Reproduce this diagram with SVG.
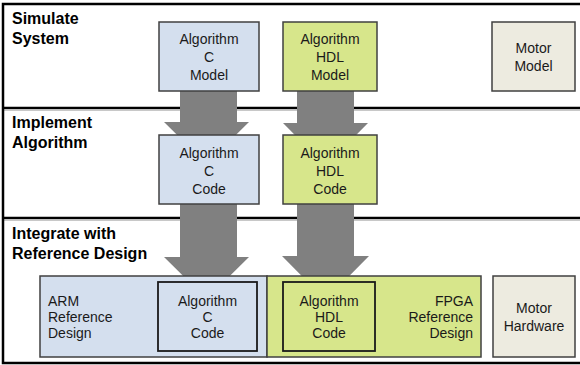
<svg xmlns="http://www.w3.org/2000/svg" width="580" height="365" viewBox="0 0 580 365">
<defs>
<style>
.frame{fill:none;stroke:#000;stroke-width:2.5}
.div{stroke:#000;stroke-width:2.5}
.sub{stroke:#c8c8c8;stroke-width:1}
.arrow{fill:#808080}
.box{stroke:#404040;stroke-width:1.5}
.inner{stroke:#1a1a1a;stroke-width:1.8}
.blue{fill:#d4dfee}
.green{fill:#d7e68b}
.beige{fill:#edebe0}
.lbl{font-family:"Liberation Sans",Arial,sans-serif;font-size:16px;font-weight:bold;fill:#000}
.t{font-family:"Liberation Sans",Arial,sans-serif;font-size:14px;fill:#1a1a1a;text-anchor:middle}
.tl{font-family:"Liberation Sans",Arial,sans-serif;font-size:14px;fill:#1a1a1a}
.tr{font-family:"Liberation Sans",Arial,sans-serif;font-size:14px;fill:#1a1a1a;text-anchor:end}
</style>
</defs>
<rect width="580" height="365" fill="#fff"/>
<g id="frame">
<line class="sub" x1="3" y1="110.5" x2="580" y2="110.5"/>
<line class="sub" x1="3" y1="220.5" x2="580" y2="220.5"/>
<path class="frame" d="M582 4 H3 V363 H582"/>
<line class="div" x1="3" y1="108" x2="580" y2="108"/>
<line class="div" x1="3" y1="218" x2="580" y2="218"/>
</g>
<g id="row-labels">
<text class="lbl" x="12" y="24">Simulate</text>
<text class="lbl" x="12" y="44">System</text>
<text class="lbl" x="12" y="128">Implement</text>
<text class="lbl" x="12" y="148">Algorithm</text>
<text class="lbl" x="12" y="239">Integrate with</text>
<text class="lbl" x="12" y="259">Reference Design</text>
</g>
<g id="connectors">
<polygon class="arrow" points="180,90 237,90 237,122 249,122 206.5,164 164,122 180,122"/>
<polygon class="arrow" points="297,90 354,90 354,123 368,123 325.5,166 283,123 297,123"/>
<polygon class="arrow" points="180,203 237,203 237,257 249,257 206.5,299 164,257 180,257"/>
<polygon class="arrow" points="297,203 354,203 354,256 369,256 325.5,300 282,256 297,256"/>
</g>
<g id="c-model">
<rect class="box blue" x="159" y="22" width="100" height="69"/>
<text class="t" x="209" y="44">Algorithm</text>
<text class="t" x="209" y="62">C</text>
<text class="t" x="209" y="80">Model</text>
</g>
<g id="hdl-model">
<rect class="box green" x="283" y="22" width="94" height="69"/>
<text class="t" x="330" y="44">Algorithm</text>
<text class="t" x="330" y="62">HDL</text>
<text class="t" x="330" y="80">Model</text>
</g>
<g id="motor-model">
<rect class="box beige" x="492" y="22" width="83" height="69"/>
<text class="t" x="533.5" y="53">Motor</text>
<text class="t" x="533.5" y="70.5">Model</text>
</g>
<g id="c-code">
<rect class="box blue" x="159" y="135" width="100" height="69"/>
<text class="t" x="209" y="158">Algorithm</text>
<text class="t" x="209" y="176">C</text>
<text class="t" x="209" y="194">Code</text>
</g>
<g id="hdl-code">
<rect class="box green" x="283" y="135" width="94" height="69"/>
<text class="t" x="330" y="158">Algorithm</text>
<text class="t" x="330" y="176">HDL</text>
<text class="t" x="330" y="194">Code</text>
</g>
<g id="arm-ref">
<rect class="box blue" x="40" y="276" width="227" height="81"/>
<text class="tl" x="48" y="306">ARM</text>
<text class="tl" x="48" y="322">Reference</text>
<text class="tl" x="48" y="338">Design</text>
</g>
<g id="fpga-ref">
<rect class="box green" x="267" y="276" width="214" height="81"/>
<text class="tr" x="473" y="306">FPGA</text>
<text class="tr" x="473" y="322">Reference</text>
<text class="tr" x="473" y="338">Design</text>
</g>
<g id="arm-c-code">
<rect class="inner blue" x="158" y="282" width="99" height="69"/>
<text class="t" x="207.5" y="306">Algorithm</text>
<text class="t" x="207.5" y="322">C</text>
<text class="t" x="207.5" y="338">Code</text>
</g>
<g id="fpga-hdl-code">
<rect class="inner green" x="283" y="282" width="92" height="69"/>
<text class="t" x="329" y="306">Algorithm</text>
<text class="t" x="329" y="322">HDL</text>
<text class="t" x="329" y="338">Code</text>
</g>
<g id="motor-hardware">
<rect class="box beige" x="493" y="276" width="82" height="81"/>
<text class="t" x="534" y="313">Motor</text>
<text class="t" x="534" y="330.5">Hardware</text>
</g>
</svg>
